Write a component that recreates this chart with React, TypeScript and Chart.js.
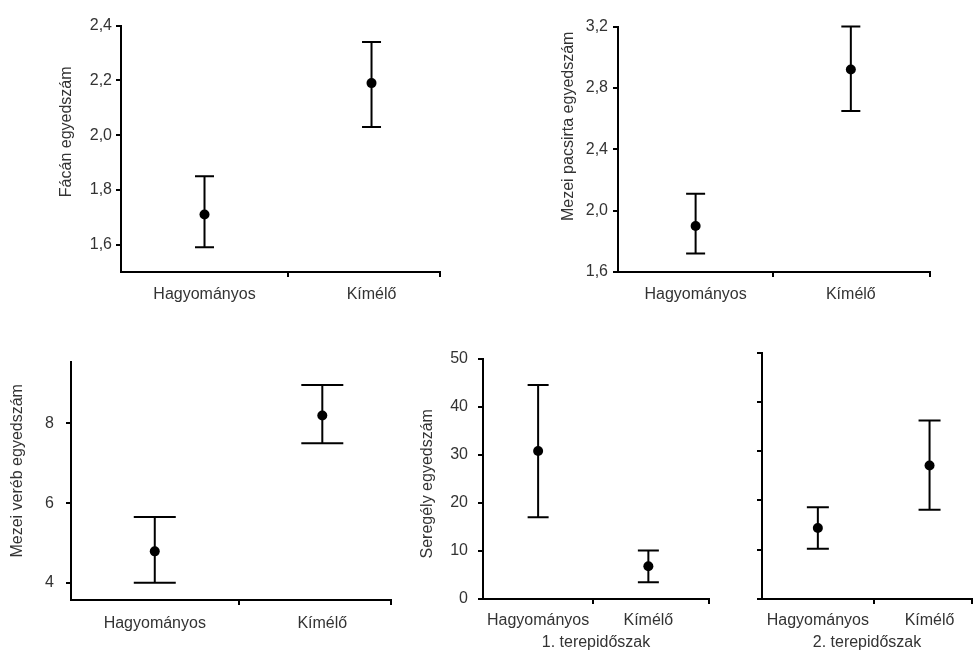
import React, { useEffect, useRef } from 'react';
import { Chart, registerables } from 'chart.js';

Chart.register(...registerables);

const FONT = '"Liberation Sans", Arial, Helvetica, sans-serif';
const TEXT = '#333333';

// ---- data ----
const categories = ['Hagyományos', 'Kímélő'];

const pheasantMean = [1.71, 2.19];
const pheasantLow = [1.59, 2.03];
const pheasantHigh = [1.85, 2.34];
const pheasantTicks = [1.6, 1.8, 2.0, 2.2, 2.4];

const larkMean = [1.9, 2.92];
const larkLow = [1.72, 2.65];
const larkHigh = [2.11, 3.2];
const larkTicks = [1.6, 2.0, 2.4, 2.8, 3.2];

const sparrowMean = [4.79, 8.2];
const sparrowLow = [4.0, 7.5];
const sparrowHigh = [5.65, 8.96];
const sparrowTicks = [4, 6, 8];

const starling1Mean = [30.8, 6.8];
const starling1Low = [17.0, 3.5];
const starling1High = [44.5, 10.1];

const starling2Mean = [14.4, 27.1];
const starling2Low = [10.2, 18.1];
const starling2High = [18.6, 36.2];

const starlingTicks = [0, 10, 20, 30, 40, 50];

const errorBarPlugin = {
  id: 'errorBars',
  beforeDatasetsDraw(chart: any, _args: any, opts: any) {
    const ds: any = chart.data.datasets[0];
    const xs = chart.scales.x;
    const ys = chart.scales.y;
    const ctx = chart.ctx;
    const cap = opts.cap || 9;
    ctx.save();
    ctx.strokeStyle = '#000';
    ctx.lineWidth = 2;
    ds.data.forEach((p: any, i: number) => {
      const x = xs.getPixelForValue(p.x);
      const yl = ys.getPixelForValue(ds.errLow[i]);
      const yh = ys.getPixelForValue(ds.errHigh[i]);
      ctx.beginPath();
      ctx.moveTo(x, yl);
      ctx.lineTo(x, yh);
      ctx.moveTo(x - cap, yl);
      ctx.lineTo(x + cap, yl);
      ctx.moveTo(x - cap, yh);
      ctx.lineTo(x + cap, yh);
      ctx.stroke();
    });
    ctx.restore();
  },
};

const yTitlePlugin = {
  id: 'yTitle',
  afterDraw(chart: any, _args: any, opts: any) {
    if (!opts || !opts.text) return;
    const s = chart.scales.y;
    const ctx = chart.ctx;
    ctx.save();
    ctx.translate(opts.x, (s.top + s.bottom) / 2 + (opts.shift || 0));
    ctx.rotate(-Math.PI / 2);
    ctx.font = `16px ${FONT}`;
    ctx.fillStyle = TEXT;
    ctx.textAlign = 'center';
    ctx.textBaseline = 'middle';
    ctx.fillText(opts.text, 0, 0);
    ctx.restore();
  },
};

type Spec = {
  left: number;
  top: number;
  width: number;
  height: number;
  padTop: number;
  padRight: number;
  yWidth: number;
  xHeight: number;
  yMin: number;
  yMax: number;
  yTicks: number[];
  decimals: number;
  showYLabels: boolean;
  yTickPad: number;
  yTitle?: string;
  yTitleX?: number;
  yTitleShift?: number;
  xMax: number;
  xTickPad: number;
  xTitle?: string;
  mean: number[];
  low: number[];
  high: number[];
  cap: number;
};

function Panel({ spec }: { spec: Spec }) {
  const ref = useRef<HTMLCanvasElement>(null);
  useEffect(() => {
    const s = spec;
    const canvas = ref.current!;
    const tickFont = { family: FONT, size: 16 };
    const hidden = (v: number) => v === 0.5 || v === 1.5;
    const chart = new Chart(canvas, {
      type: 'scatter',
      data: {
        datasets: [
          {
            data: s.mean.map((v, i) => ({ x: i + 0.5, y: v })),
            errLow: s.low,
            errHigh: s.high,
            pointRadius: 5,
            pointBackgroundColor: '#000',
            pointBorderColor: '#000',
            pointBorderWidth: 0,
            showLine: false,
          } as any,
        ],
      },
      options: {
        animation: false,
        responsive: false,
        maintainAspectRatio: false,
        devicePixelRatio: 1,
        events: [],
        layout: {
          autoPadding: false,
          padding: { top: s.padTop, right: s.padRight, left: 0, bottom: 0 },
        },
        plugins: {
          legend: { display: false },
          tooltip: { enabled: false },
          errorBars: { cap: s.cap },
          yTitle: { text: s.yTitle || '', x: s.yTitleX || 0, shift: s.yTitleShift || 0 },
        } as any,
        scales: {
          x: {
            type: 'linear',
            min: 0,
            max: s.xMax,
            afterBuildTicks: (sc: any) => {
              sc.ticks = [0.5, 1, 1.5, s.xMax].map((v) => ({ value: v }));
            },
            afterFit: (sc: any) => {
              sc.height = s.xHeight;
            },
            ticks: {
              autoSkip: false,
              maxRotation: 0,
              minRotation: 0,
              padding: s.xTickPad,
              color: TEXT,
              font: tickFont,
              callback: (v: any) => (v === 0.5 ? categories[0] : v === 1.5 ? categories[1] : ''),
            },
            grid: {
              drawOnChartArea: false,
              tickLength: 5,
              lineWidth: 2,
              color: (c: any) => (c.tick && hidden(c.tick.value) ? 'rgba(0,0,0,0)' : '#000'),
              tickColor: (c: any) => (c.tick && hidden(c.tick.value) ? 'rgba(0,0,0,0)' : '#000'),
            },
            border: { display: true, color: '#000', width: 2 },
            title: {
              display: !!s.xTitle,
              text: s.xTitle || '',
              color: TEXT,
              font: { family: FONT, size: 16, lineHeight: 1 },
              padding: { top: 0, bottom: 0 },
            },
          },
          y: {
            type: 'linear',
            min: s.yMin,
            max: s.yMax,
            afterBuildTicks: (sc: any) => {
              sc.ticks = s.yTicks.map((v) => ({ value: v }));
            },
            afterFit: (sc: any) => {
              sc.width = s.yWidth;
            },
            ticks: {
              autoSkip: false,
              padding: s.yTickPad,
              color: TEXT,
              font: tickFont,
              callback: (v: any) => (s.showYLabels ? Number(v).toFixed(s.decimals).replace('.', ',') : ''),
            },
            grid: {
              drawOnChartArea: false,
              tickLength: 5,
              lineWidth: 2,
              color: '#000',
            },
            border: { display: true, color: '#000', width: 2 },
            title: { display: false },
          },
        },
      } as any,
      plugins: [errorBarPlugin, yTitlePlugin] as any,
    });
    return () => chart.destroy();
  }, [spec]);
  return (
    <canvas
      ref={ref}
      width={spec.width}
      height={spec.height}
      style={{ position: 'absolute', left: spec.left, top: spec.top, width: spec.width, height: spec.height }}
    />
  );
}

const specs: Spec[] = [
  {
    left: 40, top: 12, width: 412, height: 300, padTop: 12, padRight: 12, yWidth: 81, xHeight: 40,
    yMin: 1.5, yMax: 2.4, yTicks: pheasantTicks, decimals: 1, showYLabels: true, yTickPad: 4,
    yTitle: 'Fácán egyedszám', yTitleX: 27, yTitleShift: -17,
    xMax: 1.91, xTickPad: 8,
    mean: pheasantMean, low: pheasantLow, high: pheasantHigh, cap: 9.5,
  },
  {
    left: 545, top: 12, width: 395, height: 300, padTop: 12, padRight: 10, yWidth: 73, xHeight: 40,
    yMin: 1.6, yMax: 3.2, yTicks: larkTicks, decimals: 1, showYLabels: true, yTickPad: 5,
    yTitle: 'Mezei pacsirta egyedszám', yTitleX: 24, yTitleShift: -23,
    xMax: 2.01, xTickPad: 8,
    mean: larkMean, low: larkLow, high: larkHigh, cap: 9.5,
  },
  {
    left: 0, top: 340, width: 401, height: 300, padTop: 12, padRight: 10, yWidth: 71, xHeight: 40,
    yMin: 3.57, yMax: 9.55, yTicks: sparrowTicks, decimals: 0, showYLabels: true, yTickPad: 12,
    yTitle: 'Mezei veréb egyedszám', yTitleX: 18, yTitleShift: -10,
    xMax: 1.91, xTickPad: 9,
    mean: sparrowMean, low: sparrowLow, high: sparrowHigh, cap: 21,
  },
  {
    left: 405, top: 339, width: 314, height: 312, padTop: 12, padRight: 10, yWidth: 78, xHeight: 52,
    yMin: 0, yMax: 50, yTicks: starlingTicks, decimals: 0, showYLabels: true, yTickPad: 10,
    yTitle: 'Seregély egyedszám', yTitleX: 23, yTitleShift: 5,
    xMax: 2.05, xTickPad: 7, xTitle: '1. terepidőszak',
    mean: starling1Mean, low: starling1Low, high: starling1High, cap: 10.5,
  },
  {
    left: 742, top: 339, width: 237, height: 312, padTop: 12, padRight: 1, yWidth: 20, xHeight: 52,
    yMin: 0, yMax: 50, yTicks: starlingTicks, decimals: 0, showYLabels: false, yTickPad: 4,
    xMax: 1.88, xTickPad: 7, xTitle: '2. terepidőszak',
    mean: starling2Mean, low: starling2Low, high: starling2High, cap: 11,
  },
];

export default function App() {
  return (
    <div style={{ position: 'absolute', left: 0, top: 0, width: 979, height: 651, overflow: 'hidden', background: '#fff' }}>
      {specs.map((s, i) => (
        <Panel key={i} spec={s} />
      ))}
    </div>
  );
}
